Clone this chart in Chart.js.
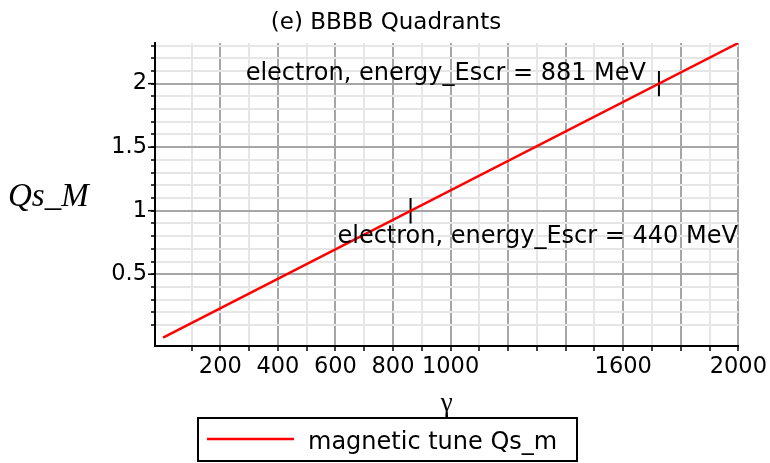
<!DOCTYPE html>
<html><head><meta charset="utf-8">
<script src="https://cdn.jsdelivr.net/npm/chart.js@4/dist/chart.umd.min.js"></script>
<style>html,body{margin:0;padding:0;background:#fff}</style>
</head><body>
<canvas id="c" width="770" height="463" style="display:block;width:770px;height:463px"></canvas>
<script>
// ---- data ----
const gamma = [1, 2000];
const qsM = [0.0012, 2.32];
const markerGamma = [861, 1724];
const markerQs = [1.0, 2.0];
const markerHalfLen = 0.1;
const markerTexts = ['electron, energy_Escr = 440 MeV', 'electron, energy_Escr = 881 MeV'];
const xTickValues = [100,200,300,400,500,600,700,800,900,1000,1100,1200,1300,1400,1500,1600,1700,1800,1900,2000];
const xTickLabels = [200,400,600,800,1000,1600,2000];
const yTickValues = [0.1,0.2,0.3,0.4,0.5,0.6,0.7,0.8,0.9,1.0,1.1,1.2,1.3,1.4,1.5,1.6,1.7,1.8,1.9,2.0,2.1,2.2,2.3];
const yTickLabels = [0.5,1,1.5,2];
const titleText = '(e) BBBB Quadrants';
const xTitle = 'γ';
const yTitle = 'Qs_M';
const legendText = 'magnetic tune Qs_m';

// ---- styles / layout ----
const SANS = '"DejaVu Sans", sans-serif';
const SERIF = '"Liberation Serif", "DejaVu Serif", serif';
const DARK = '#a6a6a6', LIGHT = '#e6e6e6';
const annot = [
  {x: 607, y: 0.745, align: 'left'},
  {x: 1679, y: 2.028, align: 'right'}
];

const lineData = gamma.map((g, i) => ({x: g, y: qsM[i]}));
const markerSets = markerGamma.map((g, i) => ({
  label: 'marker' + i,
  data: [{x: g, y: markerQs[i] - markerHalfLen}, {x: g, y: markerQs[i] + markerHalfLen}],
  borderColor: '#000', borderWidth: 2, showLine: true, pointRadius: 0, fill: false
}));

const isMajorX = v => Math.round(v) % 200 === 0;
const isMajorY = v => Math.round(v * 10) % 5 === 0;

const deco = {
  id: 'deco',
  afterDraw(chart) {
    const ctx = chart.ctx, xs = chart.scales.x, ys = chart.scales.y;
    ctx.save();
    // longer major y ticks
    ctx.strokeStyle = '#000'; ctx.lineWidth = 1.5;
    yTickLabels.forEach(v => {
      const py = ys.getPixelForValue(v);
      ctx.beginPath(); ctx.moveTo(xs.left - 7, py); ctx.lineTo(xs.left, py); ctx.stroke();
    });
    // title
    ctx.fillStyle = '#000';
    ctx.font = '23px ' + SANS; ctx.textAlign = 'center'; ctx.textBaseline = 'alphabetic';
    ctx.fillText(titleText, 386, 29);
    // y title
    ctx.font = 'italic 33px ' + SERIF; ctx.textAlign = 'left';
    ctx.fillText(yTitle, 8, 206);
    // x title
    ctx.font = '27px ' + SERIF; ctx.textAlign = 'center';
    ctx.fillText(xTitle, (xs.left + xs.right) / 2, 411);
    // annotations
    ctx.font = '24px ' + SANS;
    annot.forEach((a, i) => {
      ctx.textAlign = a.align;
      ctx.fillText(markerTexts[i], xs.getPixelForValue(a.x), ys.getPixelForValue(a.y));
    });
    // legend
    ctx.strokeStyle = '#000'; ctx.lineWidth = 2;
    ctx.strokeRect(198, 418, 379, 43);
    ctx.strokeStyle = '#ff0000'; ctx.lineWidth = 2.5;
    ctx.beginPath(); ctx.moveTo(207, 439); ctx.lineTo(294, 439); ctx.stroke();
    ctx.textAlign = 'left'; ctx.fillStyle = '#000';
    ctx.fillText(legendText, 308, 449);
    ctx.restore();
  }
};

new Chart(document.getElementById('c'), {
  type: 'scatter',
  data: {
    datasets: [
      {label: legendText, data: lineData, borderColor: '#ff0000', borderWidth: 2.5,
       showLine: true, pointRadius: 0, fill: false},
      ...markerSets
    ]
  },
  options: {
    responsive: false, animation: false, devicePixelRatio: 1,
    layout: {padding: {top: 43, right: 28, left: 0, bottom: 0}},
    plugins: {legend: {display: false}, title: {display: false}, tooltip: {enabled: false}},
    scales: {
      x: {
        type: 'linear', position: 'bottom', min: -27, max: 2000,
        afterFit: s => { s.height = 117; },
        afterBuildTicks: s => { s.ticks = xTickValues.map(v => ({value: v})); },
        ticks: {
          autoSkip: false, maxRotation: 0, minRotation: 0, padding: 3,
          color: '#000', font: {family: SANS, size: 22.5},
          callback: v => xTickLabels.includes(Math.round(v)) ? String(Math.round(v)) : ''
        },
        grid: {
          color: c => (c.tick && isMajorX(c.tick.value)) ? DARK : LIGHT,
          lineWidth: 2, tickColor: '#000', tickLength: 5, tickWidth: 1.5
        },
        border: {display: true, color: '#000', width: 2}
      },
      y: {
        type: 'linear', min: -0.065, max: 2.32,
        afterFit: s => { s.width = 155; },
        afterBuildTicks: s => { s.ticks = yTickValues.map(v => ({value: v})); },
        ticks: {
          autoSkip: false, padding: 4, color: '#000', font: {family: SANS, size: 22.5},
          callback: v => yTickLabels.some(t => Math.abs(t - v) < 1e-6) ? String(Math.round(v * 10) / 10) : ''
        },
        grid: {
          color: c => (c.tick && isMajorY(c.tick.value)) ? DARK : LIGHT,
          lineWidth: 2, tickColor: '#000', tickLength: 4, tickWidth: 1.5
        },
        border: {display: true, color: '#000', width: 2}
      }
    }
  },
  plugins: [deco]
});
</script>
</body></html>
